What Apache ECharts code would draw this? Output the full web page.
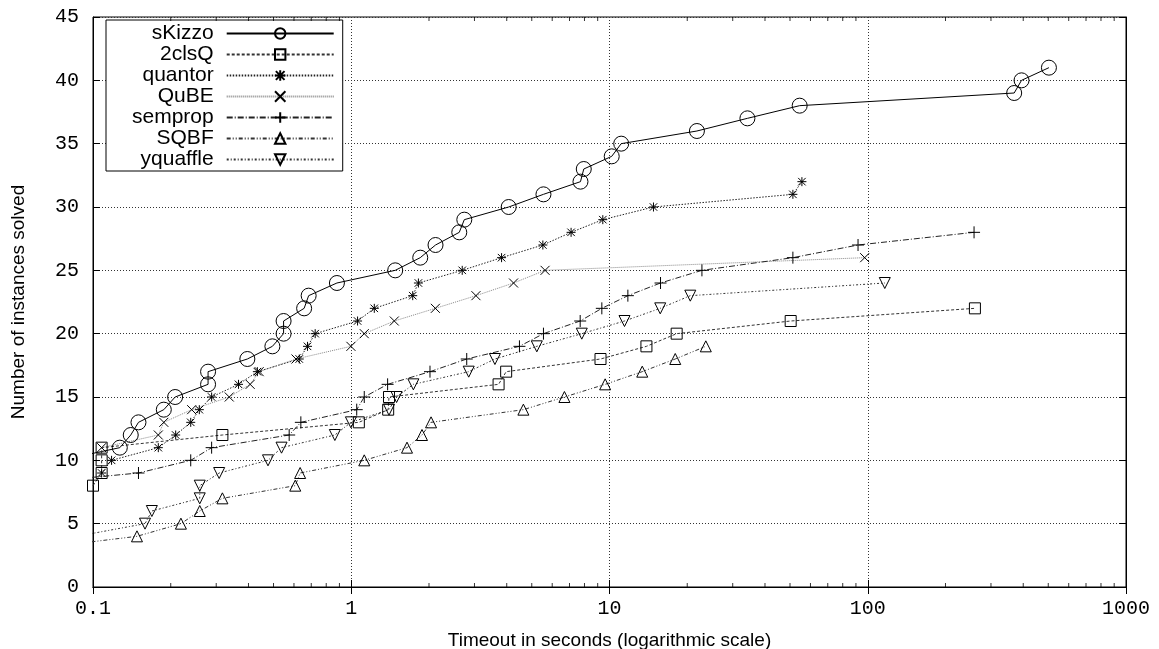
<!DOCTYPE html>
<html>
<head>
<meta charset="utf-8">
<script src="https://cdn.jsdelivr.net/npm/echarts@6/dist/echarts.min.js"></script>
<style>
  html, body { margin: 0; background: #fff; }
  #chart { width: 1159px; height: 649px; }
</style>
</head>
<body>
<div id="chart"></div>
<script>
// [timeout in seconds, instances solved]; points left of 0.1 only carry the line to the edge
const sKizzo = [[0.0745, 10], [0.127, 11], [0.140, 12], [0.150, 13], [0.188, 14], [0.208, 15], [0.279, 16],
  [0.279, 17], [0.396, 18], [0.495, 19], [0.547, 20], [0.547, 21], [0.657, 22], [0.684, 23], [0.88, 24],
  [1.48, 25], [1.85, 26], [2.12, 27], [2.62, 28], [2.74, 29], [4.07, 30], [5.55, 31], [7.72, 32], [7.95, 33],
  [10.2, 34], [11.1, 35], [21.8, 36], [34.2, 37], [54.5, 38], [369, 39], [394, 40], [503, 41]];
const clsQ = [[0.1, 8], [0.108, 9], [0.108, 10], [0.108, 11], [0.317, 12], [1.07, 13], [1.39, 14], [1.40, 15],
  [3.72, 16], [3.98, 17], [9.23, 18], [13.9, 19], [18.2, 20], [50.3, 21], [260, 22]];
const quantor = [[0.108, 9], [0.118, 10], [0.179, 11], [0.209, 12], [0.239, 13], [0.258, 14], [0.288, 15],
  [0.366, 16], [0.433, 17], [0.629, 18], [0.677, 19], [0.725, 20], [1.058, 21], [1.228, 22], [1.73, 23],
  [1.82, 24], [2.69, 25], [3.82, 26], [5.52, 27], [7.10, 28], [9.42, 29], [14.8, 30], [51.3, 31], [55.6, 32]];
const qube = [[0.108, 11], [0.179, 12], [0.188, 13], [0.241, 14], [0.337, 15], [0.406, 16], [0.44, 17],
  [0.611, 18], [0.997, 19], [1.123, 20], [1.468, 21], [2.117, 22], [3.04, 23], [4.25, 24], [5.63, 25], [97.3, 26]];
const semprop = [[0.0455, 8], [0.150, 9], [0.239, 10], [0.288, 11], [0.575, 12], [0.638, 13], [1.05, 14],
  [1.123, 15], [1.383, 16], [2.018, 17], [2.8, 18], [4.48, 19], [5.55, 20], [7.70, 21], [9.34, 22], [11.78, 23],
  [15.76, 24], [22.8, 25], [51.3, 26], [91.7, 27], [258, 28]];
const sqbf = [[0.058, 3], [0.148, 4], [0.219, 5], [0.259, 6], [0.317, 7], [0.607, 8], [0.634, 9], [1.123, 10],
  [1.644, 11], [1.879, 12], [2.037, 13], [4.64, 14], [6.69, 15], [9.62, 16], [13.39, 17], [17.97, 18], [23.6, 19]];
const yquaffle = [[0.0865, 4], [0.159, 5], [0.169, 6], [0.259, 7], [0.259, 8], [0.308, 9], [0.476, 10],
  [0.537, 11], [0.864, 12], [0.997, 13], [1.40, 14], [1.498, 15], [1.74, 16], [2.85, 17], [3.6, 18], [5.23, 19],
  [7.81, 20], [11.43, 21], [15.72, 22], [20.55, 23], [116.4, 24]];

const decades = [0.1, 1, 10, 100];
const minorSteps = [2, 3, 4, 5, 6, 7, 8, 9];

const monoFont = '"Liberation Mono", "DejaVu Sans Mono", monospace';
const sansFont = '"Liberation Sans", Arial, sans-serif';

const STAR = 'path://M0,0L10,10M10,0L0,10M5,-1L5,11M-1,5L11,5';
const CROSS = 'path://M0,0L10,10M10,0L0,10';
const PLUS = 'path://M5,0L5,10M0,5L10,5';
const TRI_DOWN = 'path://M0,0L10,0L5,9Z';

function lineSeries(name, data, symbol, size, dash, color) {
  return {
    name: name,
    type: 'line',
    data: data,
    symbol: symbol,
    symbolSize: size,
    showAllSymbol: true,
    clip: true,
    lineStyle: { color: color, width: 1, type: dash },
    itemStyle: { color: 'rgba(0,0,0,0)', borderColor: '#000', borderWidth: 1 },
    emphasis: { disabled: true },
    z: 3
  };
}

const minorTicks = [];
decades.forEach(d => minorSteps.forEach(k => minorTicks.push(+(d * k).toPrecision(3))));

const chart = echarts.init(document.getElementById('chart'));

const option = {
  animation: false,
  backgroundColor: '#fff',
  grid: {
    left: 93, right: 33, top: 17, bottom: 62,
    outerBoundsMode: 'none',
    show: true, borderColor: '#000', borderWidth: 1
  },
  legend: {
    orient: 'vertical',
    left: 106,
    top: 20,
    align: 'right',
    padding: [3, 8, 1, 26],
    itemGap: 0,
    itemWidth: 107,
    itemHeight: 13,
    backgroundColor: '#fff',
    borderColor: '#000',
    borderWidth: 1,
    textStyle: { fontFamily: sansFont, fontSize: 21, color: '#000', lineHeight: 19.3, padding: [0, 8, 0, 0] },
    data: ['sKizzo', '2clsQ', 'quantor', 'QuBE', 'semprop', 'SQBF', 'yquaffle']
  },
  xAxis: [{
    type: 'log',
    logBase: 10,
    min: 0.1,
    max: 1000,
    name: 'Timeout in seconds (logarithmic scale)',
    nameLocation: 'middle',
    nameGap: 44,
    nameTextStyle: { fontFamily: sansFont, fontSize: 19, color: '#000' },
    axisLine: { lineStyle: { color: '#000' } },
    axisTick: { inside: true, length: 7, lineStyle: { color: '#000' } },
    axisLabel: {
      fontFamily: monoFont, fontSize: 20, color: '#000', margin: 12,
      formatter: v => String(+(+v).toPrecision(3))
    },
    splitLine: { show: true, lineStyle: { color: '#333', type: [1, 2], width: 1 } }
  }, {
    type: 'log',
    logBase: 10,
    min: 0.1,
    max: 1000,
    position: 'top',
    axisLine: { lineStyle: { color: '#000' } },
    axisTick: { inside: true, length: 7, lineStyle: { color: '#000' } },
    axisLabel: { show: false },
    splitLine: { show: false }
  }],
  yAxis: [{
    type: 'value',
    min: 0,
    max: 45,
    interval: 5,
    name: 'Number of instances solved',
    nameLocation: 'middle',
    nameGap: 65,
    nameTextStyle: { fontFamily: sansFont, fontSize: 19, color: '#000' },
    axisLine: { show: true, lineStyle: { color: '#000' } },
    axisTick: { show: true, inside: true, length: 7, lineStyle: { color: '#000' } },
    axisLabel: { fontFamily: monoFont, fontSize: 20, color: '#000', margin: 14 },
    splitLine: { show: true, lineStyle: { color: '#333', type: [1, 2], width: 1 } }
  }, {
    type: 'value',
    min: 0,
    max: 45,
    interval: 5,
    position: 'right',
    axisLine: { show: true, lineStyle: { color: '#000' } },
    axisTick: { show: true, inside: true, length: 7, lineStyle: { color: '#000' } },
    axisLabel: { show: false },
    splitLine: { show: false }
  }],
  series: [
    lineSeries('sKizzo', sKizzo, 'circle', 15, 'solid', '#000'),
    lineSeries('2clsQ', clsQ, 'rect', 11, [3, 2], '#333'),
    lineSeries('quantor', quantor, STAR, 9, [1.5, 1.5], '#222'),
    lineSeries('QuBE', qube, CROSS, 9, [1, 1], '#888'),
    lineSeries('semprop', semprop, PLUS, 12, [6, 2, 1, 2], '#222'),
    lineSeries('SQBF', sqbf, 'triangle', 11, [4, 2, 1, 2, 1, 2], '#333'),
    lineSeries('yquaffle', yquaffle, TRI_DOWN, 11, [2, 2, 1, 2], '#333'),
    {
      type: 'scatter', silent: true, clip: false, z: 4,
      data: minorTicks.map(v => [v, 0]),
      symbol: 'rect', symbolSize: [1, 4], symbolOffset: [0, -2],
      itemStyle: { color: '#000' }
    },
    {
      type: 'scatter', silent: true, clip: false, z: 4,
      data: minorTicks.map(v => [v, 45]),
      symbol: 'rect', symbolSize: [1, 4], symbolOffset: [0, 2],
      itemStyle: { color: '#000' }
    }
  ]
};

chart.setOption(option);
</script>
</body>
</html>
